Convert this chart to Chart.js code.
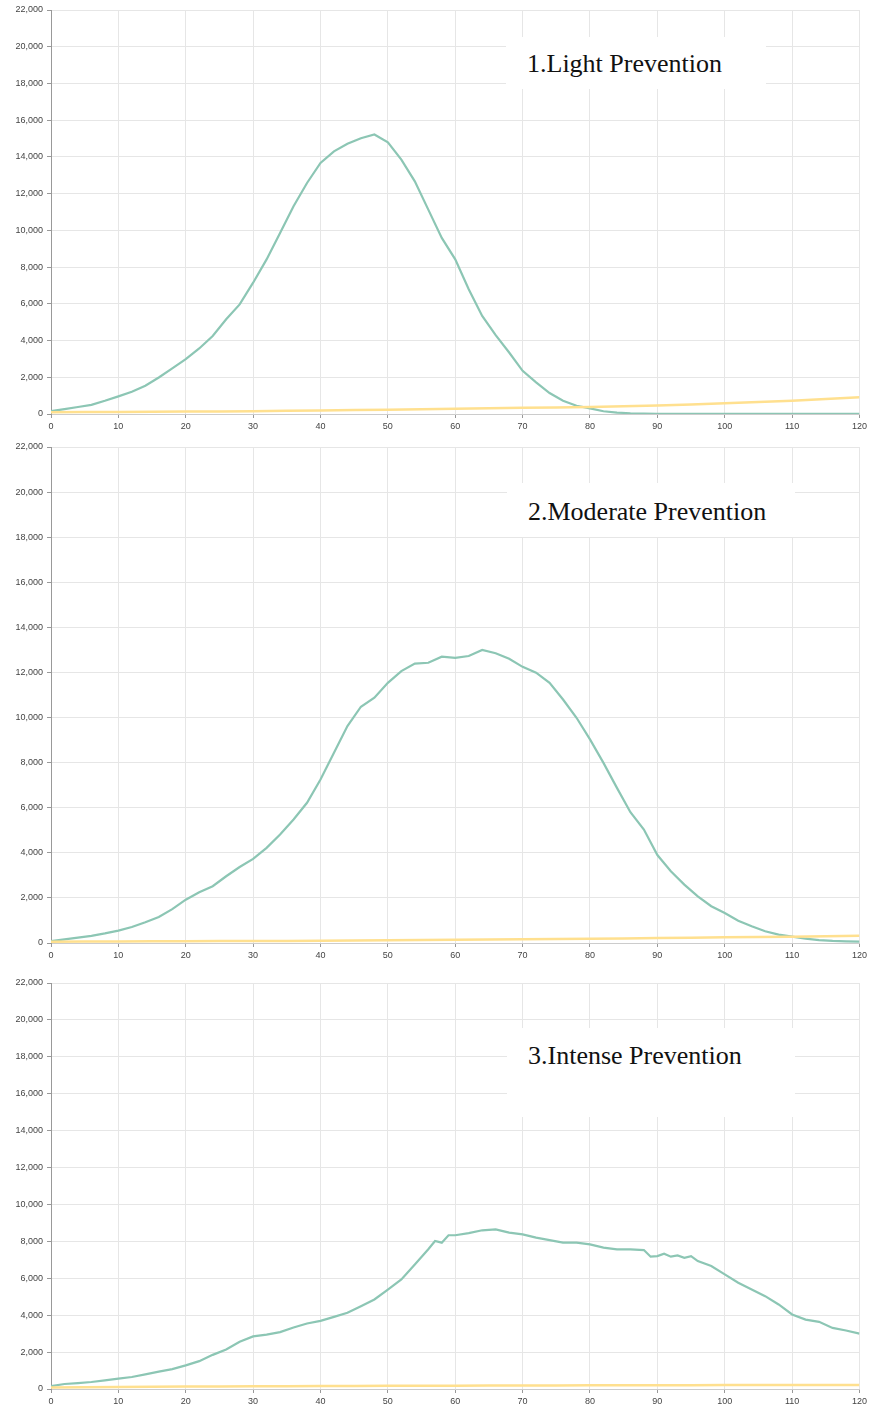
<!DOCTYPE html>
<html>
<head>
<meta charset="utf-8">
<script src="https://cdn.jsdelivr.net/npm/chart.js@4"></script>
<style>
  body { margin: 0; background: #fff; width: 870px; height: 1407px; position: relative; overflow: hidden; }
  .panel { position: absolute; left: 0; width: 870px; }
  .label {
    position: absolute; background: #fff; box-sizing: border-box;
    font-family: "Liberation Serif", "Times New Roman", serif; font-size: 26px; line-height: 26px;
    color: #111; padding-left: 21px; white-space: nowrap;
  }
</style>
</head>
<body>

<div class="panel" style="top:0;height:437px"><canvas id="lightChart"></canvas></div>
<div class="panel" style="top:437px;height:536px"><canvas id="moderateChart"></canvas></div>
<div class="panel" style="top:973px;height:434px"><canvas id="intenseChart"></canvas></div>

<div class="label" style="left:506px;top:37px;width:260px;height:52px;padding-top:14px">1.Light Prevention</div>
<div class="label" style="left:507px;top:483px;width:288px;height:54px;padding-top:16px">2.Moderate Prevention</div>
<div class="label" style="left:507px;top:1028px;width:288px;height:89px;padding-top:15px">3.Intense Prevention</div>

<script>
// dias (eje x)
const days = [0, 2, 4, 6, 8, 10, 12, 14, 16, 18, 20, 22, 24, 26, 28, 30, 32, 34, 36, 38, 40,
  42, 44, 46, 48, 50, 52, 54, 56, 58, 60, 62, 64, 66, 68, 70, 72, 74, 76, 78, 80,
  82, 84, 86, 88, 90, 92, 94, 96, 98, 100, 102, 104, 106, 108, 110, 112, 114, 116, 118, 120];
const tenDays = [0, 10, 20, 30, 40, 50, 60, 70, 80, 90, 100, 110, 120];

// 1. Light Prevention
const lightCurve = [160, 270, 380, 500, 720, 960, 1210, 1540, 1990, 2480, 2990,
  3570, 4250, 5160, 5970, 7150, 8420, 9860, 11310, 12580, 13670,
  14300, 14720, 15020, 15220, 14790, 13850, 12670, 11130, 9590, 8420,
  6790, 5340, 4290, 3350, 2350, 1720, 1140, 720, 450, 310,
  150, 80, 40, 20, 10, 8, 6, 5, 4, 3, 2, 2, 2, 2, 2, 2, 2, 2, 2, 2];
const lightBase = [90, 115, 132, 150, 195, 235, 290, 340, 385, 465, 580, 725, 910];

// 2. Moderate Prevention
const moderateCurve = [80, 160, 240, 315, 425, 550, 710, 920, 1150, 1500, 1920,
  2250, 2520, 2960, 3370, 3730, 4220, 4810, 5480, 6220, 7250,
  8440, 9620, 10480, 10880, 11540, 12060, 12390, 12430, 12700, 12650,
  12730, 13000, 12850, 12610, 12250, 11990, 11540, 10800, 9990, 9030,
  7990, 6880, 5800, 5030, 3900, 3180, 2590, 2070, 1630, 1330,
  990, 740, 520, 370, 280, 190, 130, 90, 75, 60];
const moderateBase = [60, 70, 80, 90, 100, 120, 140, 165, 190, 220, 250, 280, 320];

// 3. Intense Prevention
const intenseDays = [0, 2, 4, 6, 8, 10, 12, 14, 16, 18, 20, 22, 24, 26, 28, 30, 32, 34, 36, 38, 40,
  42, 44, 46, 48, 50, 52, 54, 56, 57, 58, 59, 60, 62, 64, 66, 68, 70, 72, 74, 76, 78, 80,
  82, 84, 86, 88, 89, 90, 91, 92, 93, 94, 95, 96, 98, 100, 102, 104, 106, 108, 110,
  112, 114, 116, 118, 120];
const intenseCurve = [160, 270, 320, 380, 470, 560, 650, 790, 940, 1080, 1280,
  1510, 1850, 2140, 2560, 2850, 2950, 3080, 3330, 3550, 3690,
  3910, 4130, 4490, 4850, 5390, 5940, 6750, 7570, 8020, 7930, 8330, 8330,
  8450, 8600, 8650, 8470, 8380, 8200, 8070, 7930, 7930, 7840,
  7660, 7570, 7570, 7530, 7170, 7200, 7330, 7170, 7240, 7110, 7200, 6930, 6660, 6210,
  5760, 5390, 5030, 4580, 4040, 3760, 3640, 3310, 3170, 3000];
const intenseBase = [80, 110, 130, 145, 160, 170, 180, 190, 200, 205, 210, 215, 220];

const yTicks = { min: 0, max: 22000, step: 2000 };
const xTicks = { min: 0, max: 120, step: 10 };

const TEAL = "#8cc6b4";
const YELLOW = "#ffe08f";

function puntos(xs, ys) {
  return xs.map((x, i) => ({ x: x, y: ys[i] }));
}

function crearPanel(idCanvas, curve, curveDays, base, axisHeight) {
  const ctx = document.getElementById(idCanvas).getContext("2d");
  new Chart(ctx, {
    type: "line",
    data: {
      datasets: [
        { data: puntos(tenDays, base), borderColor: YELLOW, borderWidth: 2.5, tension: 0.4 },
        { data: puntos(curveDays, curve), borderColor: TEAL, borderWidth: 2.2 }
      ]
    },
    options: {
      responsive: true,
      maintainAspectRatio: false,
      animation: false,
      layout: { padding: { top: 10, right: 10, left: 0, bottom: 0 } },
      elements: { point: { radius: 0 }, line: { tension: 0, fill: false } },
      plugins: { legend: { display: false }, tooltip: { enabled: false } },
      scales: {
        x: {
          type: "linear",
          min: xTicks.min, max: xTicks.max,
          afterFit(scale) { scale.height = axisHeight; },
          grid: { color: "#e6e6e6", tickColor: "#999", tickLength: 4 },
          border: { color: "#ccc" },
          ticks: { stepSize: xTicks.step, padding: 3, color: "#444",
                   font: { family: "Liberation Sans, Arial", size: 9 }, maxRotation: 0 }
        },
        y: {
          min: yTicks.min, max: yTicks.max,
          afterFit(scale) { scale.width = 51; },
          grid: { color: "#e6e6e6", tickColor: "#999", tickLength: 4 },
          border: { color: "#999" },
          ticks: { stepSize: yTicks.step, padding: 4, color: "#444",
                   font: { family: "Liberation Sans, Arial", size: 9 } }
        }
      }
    }
  });
}

crearPanel("lightChart", lightCurve, days, lightBase, 23);
crearPanel("moderateChart", moderateCurve, days, moderateBase, 30);
crearPanel("intenseChart", intenseCurve, intenseDays, intenseBase, 18);
</script>
</body>
</html>
